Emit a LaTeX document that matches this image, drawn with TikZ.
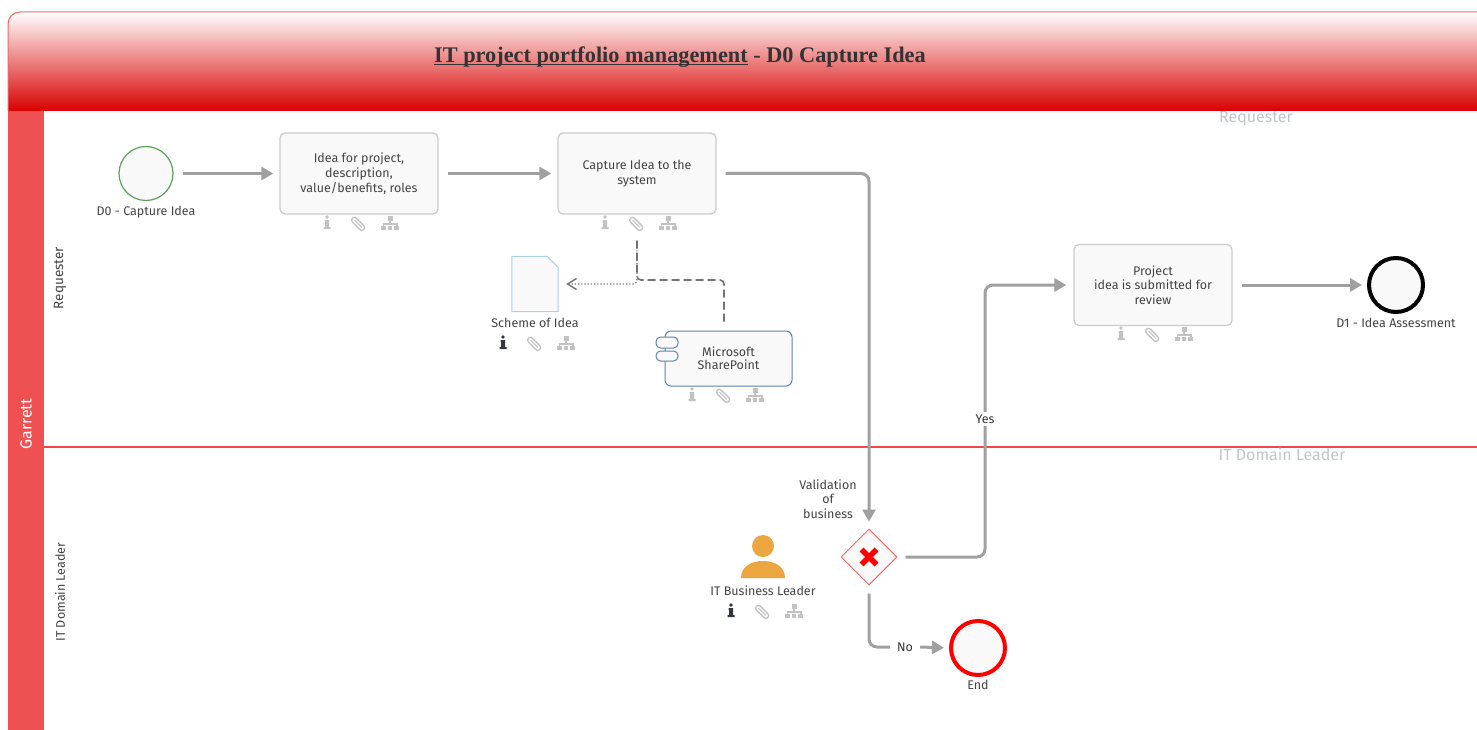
\documentclass[tikz,border=0pt]{standalone}
\usepackage{fontspec}
\setmainfont{Liberation Serif}
\newfontfamily\uifont{Fira Sans}
\usetikzlibrary{arrows.meta,shapes.geometric,calc}
\definecolor{laneRed}{HTML}{EF5052}
\definecolor{laneLine}{HTML}{F04848}
\definecolor{headRed}{HTML}{D90000}
\definecolor{flowGrey}{HTML}{A0A0A0}
\definecolor{txtDark}{HTML}{444444}
\definecolor{paleFill}{HTML}{F9F9F9}
\definecolor{iconGrey}{HTML}{C2C2C2}
\definecolor{iconDark}{HTML}{33373D}
\definecolor{laneLabel}{HTML}{C2C6CA}
\definecolor{userOrange}{HTML}{EBA63F}
\definecolor{compBlue}{HTML}{5F82A8}
\definecolor{docBlue}{HTML}{A8D0E8}
\definecolor{startGreen}{HTML}{5DA15D}
\tikzset{
  lbl/.style={font=\uifont\fontsize{12.5}{14.7}\selectfont,text=txtDark,align=center,inner sep=0pt},
  lanelbl/.style={font=\uifont\fontsize{16}{18}\selectfont,text=laneLabel,inner sep=0pt},
  taskbox/.style={lbl,draw=black!20,line width=1.3pt,fill=paleFill,rounded corners=5pt,minimum width=158pt,minimum height=81pt},
  evt/.style={circle,fill=paleFill,inner sep=0pt,minimum size=#1},
  flow/.style={draw=flowGrey,line width=3pt,rounded corners=8pt,-{Triangle[length=12pt,width=13pt]}},
  flowplain/.style={draw=flowGrey,line width=3pt,rounded corners=8pt},
  pics/iconrow/.style={code={
    % info glyph
    \fill[#1] (-32,-6) circle (1.9);
    \fill[#1] (-34.5,-3) -- (-30,-3) -- (-30,4) -- (-28.5,4) -- (-28.5,6) -- (-35.5,6) -- (-35.5,4) -- (-34,4) -- (-34,-1) -- (-34.5,-1) -- cycle;
    % paper clip
    \begin{scope}[rotate=-45]
      \draw[iconGrey,line width=1.3pt,rounded corners=2.6pt] (-8,-1.5) rectangle (8,4);
      \draw[iconGrey,line width=1.1pt,rounded corners=1.5pt] (-5,1.2) -- (5,1.2);
    \end{scope}
    % hierarchy glyph
    \fill[iconGrey] (28.5,-7) rectangle (33.5,-2);
    \fill[iconGrey] (30.3,-2) rectangle (31.7,1);
    \fill[iconGrey] (23.5,0.3) rectangle (38.5,1.6);
    \fill[iconGrey] (23.5,0.3) rectangle (24.9,3);
    \fill[iconGrey] (37.1,0.3) rectangle (38.5,3);
    \fill[iconGrey] (22,3) rectangle (26.6,7);
    \fill[iconGrey] (28.7,3) rectangle (33.3,7);
    \fill[iconGrey] (35.4,3) rectangle (40,7);
  }}
}
\begin{document}
\begin{tikzpicture}[x=1pt,y=-1pt]
\useasboundingbox (0,0) rectangle (1477,730);
\fill[white] (0,0) rectangle (1477,730);
% header
\shade[top color=white,bottom color=headRed] (8,111) [rounded corners=12pt] -- (8,12) [sharp corners] -- (1477,12) -- (1477,111) -- cycle;
\draw[laneRed!85,line width=1pt] (8,111) [rounded corners=12pt] -- (8,12) [sharp corners] -- (1477,12);
\node[font=\bfseries\fontsize{22.3}{25}\selectfont,text=black!80,inner sep=0pt,anchor=base west] (title) at (434,62.5) {\underline{\smash{IT project portfolio management}} - D0 Capture Idea};
% lanes
\fill[laneRed] (8,111) rectangle (44,730);
\coordinate (laneL) at (44,447);
\coordinate (laneR) at (1477,447);
\path[draw=laneLine,line width=1.2pt] (laneL) -- (laneR);
\node[font=\uifont\fontsize{16}{18}\selectfont,text=white,rotate=90,inner sep=0pt] (garrett) at (26,424) {Garrett};
\node[lbl,font=\uifont\fontsize{13.5}{16}\selectfont,rotate=90] (lane1) at (60,278) {Requester};
\node[lbl,rotate=90] (lane2) at (60,592) {IT Domain Leader};
\node[lanelbl] (lane1b) at (1256,119) {Requester};
\node[lanelbl] (lane2b) at (1282,454) {IT Domain Leader};
% events
\node[evt=54pt,draw=startGreen,line width=1.2pt] (start) at (146,173.5) {};
\node[lbl] (startl) at (146,212) {D0 - Capture Idea};
\node[evt=54pt,draw=black,line width=4pt] (d1) at (1396,285) {};
\node[lbl] (d1l) at (1396,323) {D1 - Idea Assessment};
\node[evt=54pt,draw=red,line width=4pt] (endev) at (978,648) {};
\node[lbl] (endl) at (978,685) {End};
% tasks
\node[taskbox] (t1) at (359,173.5) {Idea for project,\\description,\\value/benefits, roles};
\node[taskbox] (t2) at (637,173.5) {Capture Idea to the\\system};
\node[taskbox] (t3) at (1153,285) {Project\\idea is submitted for\\review};
% document
\node[minimum width=46pt,minimum height=55pt,inner sep=0pt] (doc) at (535,284) {};
\draw[draw=docBlue,line width=1pt,fill=paleFill] (doc.south west) -- (doc.north west) -- ($(doc.north east)+(-11,0)$) -- ($(doc.north east)+(0,11)$) -- (doc.south east) -- cycle;
\node[lbl] (docl) at (535,323) {Scheme of Idea};
% component
\node[lbl,draw=compBlue,line width=1pt,fill=paleFill,rounded corners=6pt,minimum width=127pt,minimum height=55pt,font=\uifont\fontsize{12.5}{13}\selectfont] (sp) at (728.5,358.5) {Microsoft\\SharePoint};
\draw[draw=compBlue,line width=1pt,fill=paleFill,rounded corners=4.5pt] (656,337) rectangle (678,348);
\draw[draw=compBlue,line width=1pt,fill=paleFill,rounded corners=4.5pt] (656,351) rectangle (678,361);
% gateway
\node[diamond,aspect=1,draw=red!60,line width=1pt,fill=paleFill,minimum width=56pt,minimum height=56pt,inner sep=0pt] (gw) at (869,557) {};
\draw[red,line width=5.5pt] ($(gw.center)+(-7.5,-7.5)$) -- ($(gw.center)+(7.5,7.5)$);
\draw[red,line width=5.5pt] ($(gw.center)+(-7.5,7.5)$) -- ($(gw.center)+(7.5,-7.5)$);
\node[lbl] (gwl) at (828,499) {Validation\\of\\business};
% user
\node[circle,fill=userOrange,minimum size=22pt,inner sep=0pt] (head) at (763,546) {};
\fill[userOrange] (741,578) .. controls (741,566) and (752,561) .. (763,561) .. controls (774,561) and (785,566) .. (785,578) -- cycle;
\node[lbl] (userl) at (763,591) {IT Business Leader};
% icon rows
\pic at (359,223) {iconrow=iconGrey};
\pic at (637,223) {iconrow=iconGrey};
\pic at (535,343) {iconrow=iconDark};
\pic at (724,395) {iconrow=iconGrey};
\pic at (763,611) {iconrow=iconDark};
\pic at (1153,334) {iconrow=iconGrey};
% connectors
\draw[flow,shorten <=9pt,shorten >=6pt] (start) -- (t1);
\draw[flow,shorten <=9pt,shorten >=6pt] (t1) -- (t2);
\draw[flow,shorten <=9pt,shorten >=7pt] (t2.east) -| (gw.north);
\coordinate (ybend) at (985,419);
\draw[flow,shorten <=8pt,shorten >=7pt] (gw.east) -| (ybend) |- (t3.west);
\node[lbl,fill=white,inner sep=3pt,font=\uifont\fontsize{12.5}{14}\selectfont,text=black!80] (yes) at (ybend) {Yes};
\draw[flow,shorten <=9pt,shorten >=5pt] (t3) -- (d1);
\node[lbl,inner sep=0pt,minimum width=30pt,font=\uifont\fontsize{12.5}{14}\selectfont,text=black!80] (no) at (905,647) {No};
\draw[flowplain,shorten <=8pt] (gw.south) |- (no.west);
\draw[flow,shorten >=5pt] (no.east) -- (endev.west);
\draw[draw=black!55,line width=1.2pt,dotted,rounded corners=4pt,shorten <=26pt,shorten >=8pt,-{Straight Barb[length=9pt,width=11pt,line width=1.4pt,fill=none]}] (t2.south) |- (doc.east);
\coordinate (assoc) at (637,280);
\draw[draw=black!55,line width=1.6pt,dash pattern=on 8pt off 4pt,rounded corners=4pt,shorten <=9pt,shorten >=26pt] ($(sp.north)+(-4.5,0)$) |- (assoc) -- (t2.south);
\end{tikzpicture}
\end{document}
